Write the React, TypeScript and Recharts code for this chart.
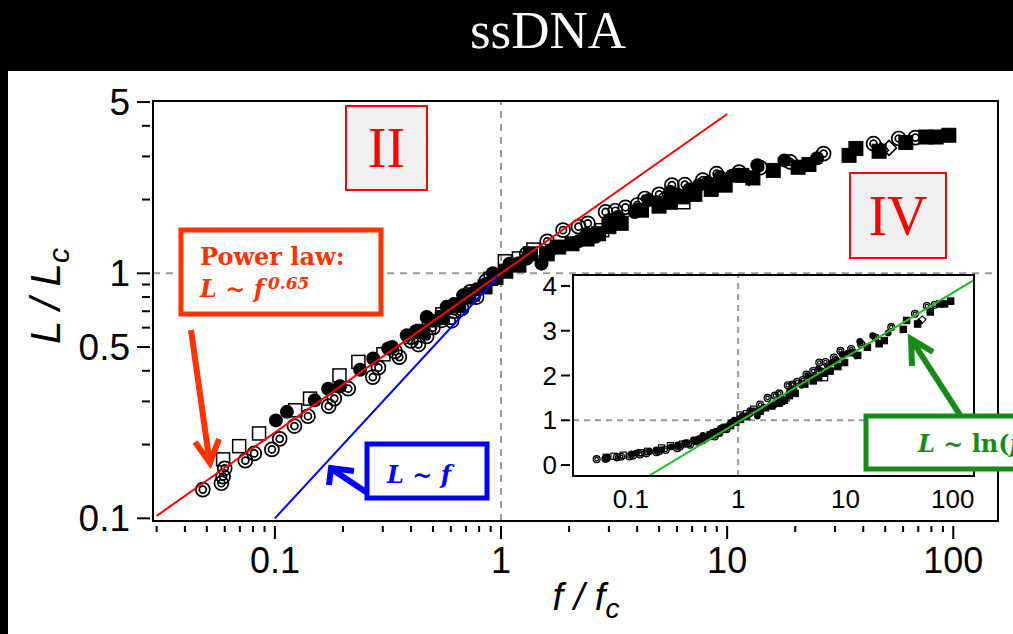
import { ComposedChart, Line, ReferenceLine, Scatter, XAxis, YAxis } from 'recharts'

type Pair = [number, number]

// f / f_c and L / L_c readings, grouped by marker style
const RINGS: Pair[] = [
  [0.048, 0.131], [0.058, 0.139], [0.059, 0.148], [0.06, 0.16], [0.074, 0.172],
  [0.081, 0.184], [0.097, 0.191], [0.105, 0.211], [0.122, 0.238], [0.14, 0.261],
  [0.173, 0.287], [0.183, 0.308], [0.211, 0.338], [0.271, 0.377], [0.287, 0.412],
  [0.34, 0.48], [0.355, 0.455], [0.4, 0.53], [0.431, 0.512], [0.469, 0.553],
  [0.5, 0.6], [0.546, 0.643], [0.605, 0.64], [0.62, 0.7], [0.67, 0.718],
  [0.73, 0.84], [0.78, 0.8], [0.86, 0.93], [1.3, 1.2], [1.6, 1.35], [1.88, 1.5],
  [2.2, 1.55], [2.42, 1.6], [2.9, 1.78], [3.2, 1.8], [3.55, 1.86], [4.0, 1.9],
  [4.33, 2.02], [5.0, 2.1], [5.7, 2.29], [6.5, 2.3], [7.8, 2.4], [8.98, 2.55],
  [11.3, 2.59], [14, 2.7], [19, 2.85], [26.7, 3.08], [44.4, 3.38], [57.4, 3.55],
  [68, 3.58],
]

const OPEN_SQUARES: Pair[] = [
  [0.059, 0.174], [0.0695, 0.197], [0.0851, 0.222], [0.123, 0.276], [0.143, 0.308],
  [0.193, 0.383], [0.234, 0.435], [0.302, 0.467], [0.4, 0.55], [0.48, 0.6],
  [0.55, 0.68], [0.75, 0.82], [0.9, 0.95], [1.04, 1.12], [1.2, 1.15], [1.39, 1.25],
  [2.8, 1.5], [6.4, 1.95], [9, 2.3],
]

const DOTS: Pair[] = [
  [0.101, 0.251], [0.113, 0.272], [0.15, 0.303], [0.172, 0.338], [0.194, 0.346],
  [0.238, 0.404], [0.272, 0.449], [0.317, 0.493], [0.33, 0.5], [0.383, 0.559],
  [0.42, 0.58], [0.469, 0.663], [0.5, 0.64], [0.575, 0.73], [0.62, 0.75],
  [0.68, 0.813], [0.78, 0.86], [0.85, 0.9], [0.92, 1.0], [1.09, 1.095], [1.2, 1.1],
  [1.3, 1.15], [1.51, 1.095], [1.65, 1.24], [2.2, 1.35], [2.4, 1.45], [2.61, 1.41],
  [3.01, 1.65], [3.3, 1.7], [3.9, 1.78], [4.5, 1.99], [4.9, 1.95], [5.59, 2.15],
  [6.0, 2.1], [6.8, 2.2], [7.5, 2.29], [8.2, 2.35], [9.3, 2.47], [10.5, 2.5],
  [13.6, 2.76], [17.9, 2.89], [25, 2.95],
]

const BLOCKS: Pair[] = [
  [0.45, 0.58], [0.55, 0.66], [0.65, 0.74], [0.72, 0.8], [0.85, 0.88], [0.95, 0.96],
  [1.05, 1.02], [1.2, 1.08], [1.35, 1.2], [1.6, 1.2], [1.8, 1.28], [2.06, 1.32],
  [2.4, 1.38], [2.7, 1.45], [3.0, 1.55], [3.4, 1.6], [4.18, 1.81], [5.0, 1.88],
  [5.6, 1.95], [6.35, 2.05], [7.2, 2.1], [8.5, 2.2], [9.8, 2.29], [11.6, 2.51],
  [13, 2.45], [16.0, 2.63], [20.6, 2.71], [23, 2.78], [34.6, 3.03], [37.1, 3.23],
  [47, 3.15], [61.7, 3.42], [75.6, 3.6], [84, 3.6], [95.6, 3.66],
]

const DIAMONDS: Pair[] = [[5.2, 2.0], [12.5, 2.45], [48, 3.18], [52, 3.25]]

// guide lines
const POWER_EXPONENT = 0.65
const POWER_RANGE = [0.03, 10]
const LINEAR_RANGE = [0.1, 0.97]
const LOG_RANGE = [0.15, 158]
const LOG_OFFSET = 0.96
const LOG_SLOPE = 0.627

const F_DOMAIN: [number, number] = [0.0289, 157.7]
const L_DOMAIN: [number, number] = [0.0975, 5.05]
const INSET_L_DOMAIN: [number, number] = [-0.245, 4.245]

const F_MAJOR = [0.1, 1, 10, 100]
const F_MINOR = [
  0.03, 0.04, 0.05, 0.06, 0.07, 0.08, 0.09,
  0.2, 0.3, 0.4, 0.5, 0.6, 0.7, 0.8, 0.9,
  2, 3, 4, 5, 6, 7, 8, 9,
  20, 30, 40, 50, 60, 70, 80, 90,
]
const L_MAJOR = [0.1, 0.5, 1, 5]
const L_MINOR = [0.2, 0.3, 0.4, 0.6, 0.7, 0.8, 0.9, 2, 3, 4]
const INSET_L_TICKS = [0, 1, 2, 3, 4]

const SANS = "'Liberation Sans', Arial, Helvetica, sans-serif"
const SERIF = "'DejaVu Serif', serif"
const TIMES = "'Liberation Serif', 'Times New Roman', serif"

const toPoints = (pairs: Pair[]) => pairs.map(([f, L]) => ({ f, L }))

const powerLine = POWER_RANGE.map((f) => ({ f, L: Math.pow(f, POWER_EXPONENT) }))
const linearLine = LINEAR_RANGE.map((f) => ({ f, L: f }))
const logLine = LOG_RANGE.map((f) => ({ f, L: LOG_OFFSET + LOG_SLOPE * Math.log(f) }))

function ringShape(r: number, sw: number) {
  return (p: any) => (
    <g>
      <circle cx={p.cx} cy={p.cy} r={r} fill="none" stroke="#000" strokeWidth={sw} />
      <circle cx={p.cx} cy={p.cy} r={r * 0.5} fill="none" stroke="#000" strokeWidth={sw} />
    </g>
  )
}

function squareShape(s: number, filled: boolean, sw: number) {
  return (p: any) => (
    <rect
      x={p.cx - s / 2}
      y={p.cy - s / 2}
      width={s}
      height={s}
      fill={filled ? '#000' : 'none'}
      stroke="#000"
      strokeWidth={sw}
    />
  )
}

function dotShape(r: number) {
  return (p: any) => <circle cx={p.cx} cy={p.cy} r={r} fill="#000" />
}

function diamondShape(d: number, sw: number) {
  return (p: any) => (
    <polygon
      points={`${p.cx},${p.cy - d} ${p.cx + d},${p.cy} ${p.cx},${p.cy + d} ${p.cx - d},${p.cy}`}
      fill="none"
      stroke="#000"
      strokeWidth={sw}
    />
  )
}

function MainXTick({ x, y, payload }: any) {
  const major = F_MAJOR.includes(payload.value)
  return (
    <g>
      <line x1={x} x2={x} y1={y + 5} y2={y + (major ? 18 : 11)} stroke="#000" strokeWidth={2} />
      {major && (
        <text x={x} y={y + 52} textAnchor="middle" fontSize={36} fontFamily={SANS} fill="#000">
          {payload.value}
        </text>
      )}
    </g>
  )
}

function MainYTick({ x, y, payload }: any) {
  const major = L_MAJOR.includes(payload.value)
  return (
    <g>
      <line x1={x - (major ? 16 : 11)} x2={x - 3} y1={y} y2={y} stroke="#000" strokeWidth={2} />
      {major && (
        <text x={x - 23} y={y + 13} textAnchor="end" fontSize={37} fontFamily={SANS} fill="#000">
          {payload.value}
        </text>
      )}
    </g>
  )
}

function InsetXTick({ x, y, payload }: any) {
  return (
    <text x={x} y={y + 32} textAnchor="middle" fontSize={26} fontFamily={SANS} fill="#000">
      {payload.value}
    </text>
  )
}

function InsetYTick({ x, y, payload }: any) {
  return (
    <g>
      <line x1={x - 12} x2={x - 3} y1={y} y2={y} stroke="#000" strokeWidth={2} />
      <text x={x - 16} y={y + 9} textAnchor="end" fontSize={26} fontFamily={SANS} fill="#000">
        {payload.value}
      </text>
    </g>
  )
}

export default function App() {
  return (
    <div style={{ position: 'relative', width: 1013, height: 634, overflow: 'hidden', background: '#fff' }}>
      <style>{'body{margin:0}'}</style>

      {/* main log-log panel */}
      <div style={{ position: 'absolute', left: 0, top: 0 }}>
        <ComposedChart width={1013} height={634} margin={{ top: 101, right: 15, bottom: 53, left: 93 }}>
          <XAxis
            dataKey="f"
            type="number"
            scale="log"
            domain={F_DOMAIN}
            allowDataOverflow
            ticks={[...F_MAJOR, ...F_MINOR].sort((a, b) => a - b)}
            interval={0}
            height={60}
            axisLine={false}
            tickLine={false}
            tickSize={0}
            tickMargin={0}
            tick={<MainXTick />}
          />
          <YAxis
            dataKey="L"
            type="number"
            scale="log"
            domain={L_DOMAIN}
            allowDataOverflow
            ticks={[...L_MAJOR, ...L_MINOR].sort((a, b) => a - b)}
            interval={0}
            width={60}
            axisLine={false}
            tickLine={false}
            tickSize={0}
            tickMargin={0}
            tick={<MainYTick />}
          />
          <ReferenceLine x={1} stroke="#9a9a9a" strokeWidth={2} strokeDasharray="7 6" />
          <ReferenceLine y={1} stroke="#9a9a9a" strokeWidth={2} strokeDasharray="7 6" />
          <Scatter data={toPoints(RINGS)} dataKey="L" shape={ringShape(7, 1.7)} isAnimationActive={false} />
          <Scatter data={toPoints(OPEN_SQUARES)} dataKey="L" shape={squareShape(13, false, 1.5)} isAnimationActive={false} />
          <Scatter data={toPoints(DOTS)} dataKey="L" shape={dotShape(7)} isAnimationActive={false} />
          <Scatter data={toPoints(BLOCKS)} dataKey="L" shape={squareShape(14, true, 1)} isAnimationActive={false} />
          <Scatter data={toPoints(DIAMONDS)} dataKey="L" shape={diamondShape(7.5, 1.5)} isAnimationActive={false} />
          <Line data={powerLine} dataKey="L" type="linear" stroke="#ff0000" strokeWidth={2} dot={false} activeDot={false} isAnimationActive={false} zIndex={700} />
          <Line data={linearLine} dataKey="L" type="linear" stroke="#0000ff" strokeWidth={2} dot={false} activeDot={false} isAnimationActive={false} zIndex={700} />
        </ComposedChart>
      </div>

      {/* inset: linear L against log f */}
      <div style={{ position: 'absolute', left: 573, top: 275, width: 401, height: 201, background: '#fff' }} />
      <div style={{ position: 'absolute', left: 500, top: 255 }}>
        <ComposedChart width={490} height={270} margin={{ top: 20, right: 16, bottom: 9, left: 33 }}>
          <XAxis
            dataKey="f"
            type="number"
            scale="log"
            domain={F_DOMAIN}
            allowDataOverflow
            ticks={F_MAJOR}
            interval={0}
            height={40}
            axisLine={false}
            tickLine={false}
            tickSize={0}
            tickMargin={0}
            tick={<InsetXTick />}
          />
          <YAxis
            dataKey="L"
            type="number"
            domain={INSET_L_DOMAIN}
            allowDataOverflow
            ticks={INSET_L_TICKS}
            interval={0}
            width={40}
            axisLine={false}
            tickLine={false}
            tickSize={0}
            tickMargin={0}
            tick={<InsetYTick />}
          />
          <ReferenceLine x={1} stroke="#9a9a9a" strokeWidth={2} strokeDasharray="6 5" />
          <ReferenceLine y={1} stroke="#9a9a9a" strokeWidth={2} strokeDasharray="6 5" />
          <Scatter data={toPoints(RINGS)} dataKey="L" shape={ringShape(3.4, 1.3)} isAnimationActive={false} />
          <Scatter data={toPoints(OPEN_SQUARES)} dataKey="L" shape={squareShape(6, false, 1.2)} isAnimationActive={false} />
          <Scatter data={toPoints(DOTS)} dataKey="L" shape={dotShape(3.4)} isAnimationActive={false} />
          <Scatter data={toPoints(BLOCKS)} dataKey="L" shape={squareShape(6.5, true, 1)} isAnimationActive={false} />
          <Scatter data={toPoints(DIAMONDS)} dataKey="L" shape={diamondShape(3.6, 1.1)} isAnimationActive={false} />
          <Line data={logLine} dataKey="L" type="linear" stroke="#22c022" strokeWidth={2} dot={false} activeDot={false} isAnimationActive={false} zIndex={700} />
        </ComposedChart>
      </div>

      {/* frames, titles and annotations */}
      <svg width={1013} height={634} style={{ position: 'absolute', left: 0, top: 0, pointerEvents: 'none' }}>
        <rect x={0} y={0} width={1013} height={71} fill="#000" />
        <rect x={0} y={0} width={8} height={634} fill="#000" />
        <text x={548} y={48} textAnchor="middle" fontSize={53} fontFamily={TIMES} fill="#fff">ssDNA</text>

        <rect x={153} y={101} width={845} height={420} fill="none" stroke="#000" strokeWidth={2} />
        <rect x={573} y={275} width={401} height={201} fill="none" stroke="#000" strokeWidth={2} />

        <text x={60} y={296} transform="rotate(-90 60 296)" textAnchor="middle" fontSize={42} fontStyle="italic" fontFamily={SANS} fill="#000">
          L / L<tspan dy={9} fontSize={30}>c</tspan>
        </text>
        <text x={586} y={610} textAnchor="middle" fontSize={38} fontStyle="italic" fontFamily={SANS} fill="#000">
          f / f<tspan dy={8} fontSize={28}>c</tspan>
        </text>

        <rect x={346} y={106} width={81} height={84} fill="#f0f0f0" stroke="#ff0000" strokeWidth={2} />
        <text x={386.5} y={167} textAnchor="middle" fontSize={56} fontFamily={TIMES} fill="#ff0000">II</text>
        <rect x={850} y={173} width={96} height={85} fill="#f0f0f0" stroke="#ff0000" strokeWidth={2} />
        <text x={898} y={235} textAnchor="middle" fontSize={56} fontFamily={TIMES} fill="#ff0000">IV</text>

        <rect x={181} y={230} width={200} height={84} fill="#fff" stroke="#ff3300" strokeWidth={5} />
        <text x={200} y={265} fontSize={24} fontWeight="bold" fontFamily={SERIF} fill="#ff3300">Power law:</text>
        <text x={200} y={297} fontSize={24} fontWeight="bold" fontStyle="italic" fontFamily={SERIF} fill="#ff3300">
          L ~ f<tspan dx={4} dy={-8} fontSize={17}>0.65</tspan>
        </text>
        <polyline points="191,330 209,458" fill="none" stroke="#ff3300" strokeWidth={6} />
        <polyline points="195,442 210,463 219,439" fill="none" stroke="#ff3300" strokeWidth={6} strokeLinejoin="miter" />

        <rect x={367} y={444} width={120} height={54} fill="#fff" stroke="#0000ff" strokeWidth={5} />
        <text x={387} y={483} fontSize={24} fontWeight="bold" fontStyle="italic" fontFamily={SERIF} fill="#0000ff">L ~ f</text>
        <polyline points="366,492 333,470" fill="none" stroke="#0000ff" strokeWidth={6} />
        <polyline points="329,485 331,468 354,471" fill="none" stroke="#0000ff" strokeWidth={6} strokeLinejoin="miter" />

        <rect x={866} y={416} width={160} height={53} fill="#fff" stroke="#168c16" strokeWidth={5} />
        <text x={918} y={452} fontSize={24} fontWeight="bold" fontFamily={SERIF} fill="#168c16">
          <tspan fontStyle="italic">L</tspan> ~ ln(<tspan fontStyle="italic">f</tspan>/<tspan fontStyle="italic">f</tspan>
          <tspan dy={5} fontSize={16}>c</tspan>)
        </text>
        <polyline points="960,415 913,342" fill="none" stroke="#168c16" strokeWidth={6} />
        <polyline points="912,366 911,339 933,352" fill="none" stroke="#168c16" strokeWidth={6} strokeLinejoin="miter" />
      </svg>
    </div>
  )
}
